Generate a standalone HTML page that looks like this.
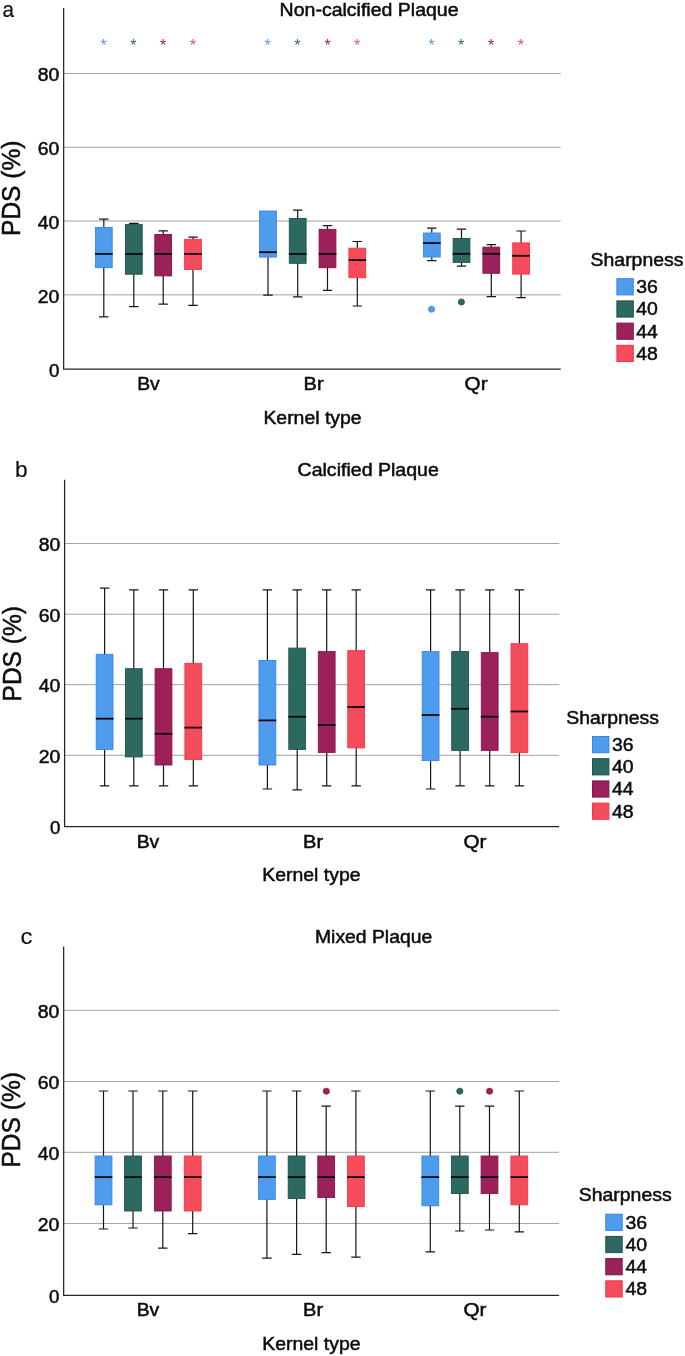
<!DOCTYPE html>
<html lang="en"><head><meta charset="utf-8"><title>PDS by kernel type and sharpness</title>
<style>html,body{margin:0;padding:0;background:#fff}svg{display:block;will-change:transform;opacity:.999}text{font-family:"Liberation Sans",sans-serif;fill:#0c0c0c;stroke:#0c0c0c;stroke-width:.5px}</style></head><body>
<svg width="685" height="1356" viewBox="0 0 685 1356" role="img" aria-label="Box plots of PDS by kernel type and sharpness">
<rect width="685" height="1356" fill="#ffffff"/>
<g id="panel-a">
<line x1="63.65" y1="73.45" x2="560.8" y2="73.45" stroke="#a3a3a3" stroke-width="1"/>
<line x1="63.65" y1="147.25" x2="560.8" y2="147.25" stroke="#a3a3a3" stroke-width="1"/>
<line x1="63.65" y1="221.0" x2="560.8" y2="221.0" stroke="#a3a3a3" stroke-width="1"/>
<line x1="63.65" y1="294.85" x2="560.8" y2="294.85" stroke="#a3a3a3" stroke-width="1"/>
<path d="M103.8 219.2V316.8M99.10 219.2H108.50M99.10 316.8H108.50" stroke="#161616" stroke-width="1.2" fill="none"/>
<path d="M133.8 223.4V306.6M129.10 223.4H138.50M129.10 306.6H138.50" stroke="#161616" stroke-width="1.2" fill="none"/>
<path d="M163.2 230.8V304.1M158.50 230.8H167.90M158.50 304.1H167.90" stroke="#161616" stroke-width="1.2" fill="none"/>
<path d="M193.0 237.2V305.3M188.30 237.2H197.70M188.30 305.3H197.70" stroke="#161616" stroke-width="1.2" fill="none"/>
<path d="M268.0 212.7V295.1M263.30 212.7H272.70M263.30 295.1H272.70" stroke="#161616" stroke-width="1.2" fill="none"/>
<path d="M297.7 210.2V296.9M293.00 210.2H302.40M293.00 296.9H302.40" stroke="#161616" stroke-width="1.2" fill="none"/>
<path d="M327.5 225.6V290.3M322.80 225.6H332.20M322.80 290.3H332.20" stroke="#161616" stroke-width="1.2" fill="none"/>
<path d="M357.3 241.5V306.0M352.60 241.5H362.00M352.60 306.0H362.00" stroke="#161616" stroke-width="1.2" fill="none"/>
<path d="M431.8 228.2V260.6M427.10 228.2H436.50M427.10 260.6H436.50" stroke="#161616" stroke-width="1.2" fill="none"/>
<path d="M461.5 229.2V266.1M456.80 229.2H466.20M456.80 266.1H466.20" stroke="#161616" stroke-width="1.2" fill="none"/>
<path d="M491.3 244.6V296.6M486.60 244.6H496.00M486.60 296.6H496.00" stroke="#161616" stroke-width="1.2" fill="none"/>
<path d="M521.1 231.0V297.6M516.40 231.0H525.80M516.40 297.6H525.80" stroke="#161616" stroke-width="1.2" fill="none"/>
<rect x="95.40" y="227.40" width="16.80" height="40.30" fill="#4E9DEC" stroke="#3B82EE" stroke-width="0.9"/>
<line x1="95.00" y1="253.9" x2="112.60" y2="253.9" stroke="#0a0a0a" stroke-width="1.8"/>
<rect x="125.40" y="224.40" width="16.80" height="49.80" fill="#2C6A61" stroke="#1F504A" stroke-width="0.9"/>
<line x1="125.00" y1="253.9" x2="142.60" y2="253.9" stroke="#0a0a0a" stroke-width="1.8"/>
<rect x="154.80" y="234.50" width="16.80" height="41.40" fill="#9C215A" stroke="#83174A" stroke-width="0.9"/>
<line x1="154.40" y1="253.9" x2="172.00" y2="253.9" stroke="#0a0a0a" stroke-width="1.8"/>
<rect x="184.60" y="239.30" width="16.80" height="30.20" fill="#F44C5A" stroke="#F53545" stroke-width="0.9"/>
<line x1="184.20" y1="253.9" x2="201.80" y2="253.9" stroke="#0a0a0a" stroke-width="1.8"/>
<rect x="259.60" y="211.00" width="16.80" height="46.10" fill="#4E9DEC" stroke="#3B82EE" stroke-width="0.9"/>
<line x1="259.20" y1="252.2" x2="276.80" y2="252.2" stroke="#0a0a0a" stroke-width="1.8"/>
<rect x="289.30" y="218.40" width="16.80" height="44.90" fill="#2C6A61" stroke="#1F504A" stroke-width="0.9"/>
<line x1="288.90" y1="253.9" x2="306.50" y2="253.9" stroke="#0a0a0a" stroke-width="1.8"/>
<rect x="319.10" y="229.30" width="16.80" height="38.40" fill="#9C215A" stroke="#83174A" stroke-width="0.9"/>
<line x1="318.70" y1="253.9" x2="336.30" y2="253.9" stroke="#0a0a0a" stroke-width="1.8"/>
<rect x="348.90" y="248.20" width="16.80" height="29.50" fill="#F44C5A" stroke="#F53545" stroke-width="0.9"/>
<line x1="348.50" y1="260.1" x2="366.10" y2="260.1" stroke="#0a0a0a" stroke-width="1.8"/>
<rect x="423.40" y="233.00" width="16.80" height="24.00" fill="#4E9DEC" stroke="#3B82EE" stroke-width="0.9"/>
<line x1="423.00" y1="243.1" x2="440.60" y2="243.1" stroke="#0a0a0a" stroke-width="1.8"/>
<rect x="453.10" y="238.40" width="16.80" height="24.00" fill="#2C6A61" stroke="#1F504A" stroke-width="0.9"/>
<line x1="452.70" y1="253.8" x2="470.30" y2="253.8" stroke="#0a0a0a" stroke-width="1.8"/>
<rect x="482.90" y="247.10" width="16.80" height="26.20" fill="#9C215A" stroke="#83174A" stroke-width="0.9"/>
<line x1="482.50" y1="253.8" x2="500.10" y2="253.8" stroke="#0a0a0a" stroke-width="1.8"/>
<rect x="512.70" y="242.90" width="16.80" height="31.20" fill="#F44C5A" stroke="#F53545" stroke-width="0.9"/>
<line x1="512.30" y1="255.8" x2="529.90" y2="255.8" stroke="#0a0a0a" stroke-width="1.8"/>
<circle cx="431.55" cy="309.2" r="3.05" fill="#4E9DEC" stroke="#3B82EE" stroke-width="0.8"/>
<circle cx="461.4" cy="302.0" r="3.05" fill="#2C6A61" stroke="#1F504A" stroke-width="0.8"/>
<path d="M63.65 8.0V369.2H560.8" stroke="#262626" stroke-width="1.25" fill="none"/>
</g>
<g id="panel-b">
<line x1="64.6" y1="543.5" x2="559.2" y2="543.5" stroke="#a3a3a3" stroke-width="1"/>
<line x1="64.6" y1="614.2" x2="559.2" y2="614.2" stroke="#a3a3a3" stroke-width="1"/>
<line x1="64.6" y1="684.6" x2="559.2" y2="684.6" stroke="#a3a3a3" stroke-width="1"/>
<line x1="64.6" y1="755.3" x2="559.2" y2="755.3" stroke="#a3a3a3" stroke-width="1"/>
<path d="M104.6 588.1V785.8M99.90 588.1H109.30M99.90 785.8H109.30" stroke="#161616" stroke-width="1.2" fill="none"/>
<path d="M133.8 589.8V785.8M129.10 589.8H138.50M129.10 785.8H138.50" stroke="#161616" stroke-width="1.2" fill="none"/>
<path d="M163.5 589.8V785.8M158.80 589.8H168.20M158.80 785.8H168.20" stroke="#161616" stroke-width="1.2" fill="none"/>
<path d="M193.3 589.8V785.8M188.60 589.8H198.00M188.60 785.8H198.00" stroke="#161616" stroke-width="1.2" fill="none"/>
<path d="M267.4 589.8V789.0M262.70 589.8H272.10M262.70 789.0H272.10" stroke="#161616" stroke-width="1.2" fill="none"/>
<path d="M297.2 589.8V789.8M292.50 589.8H301.90M292.50 789.8H301.90" stroke="#161616" stroke-width="1.2" fill="none"/>
<path d="M326.7 589.8V785.8M322.00 589.8H331.40M322.00 785.8H331.40" stroke="#161616" stroke-width="1.2" fill="none"/>
<path d="M356.2 589.8V785.8M351.50 589.8H360.90M351.50 785.8H360.90" stroke="#161616" stroke-width="1.2" fill="none"/>
<path d="M430.6 589.8V789.0M425.90 589.8H435.30M425.90 789.0H435.30" stroke="#161616" stroke-width="1.2" fill="none"/>
<path d="M460.1 589.8V785.8M455.40 589.8H464.80M455.40 785.8H464.80" stroke="#161616" stroke-width="1.2" fill="none"/>
<path d="M489.7 589.8V785.8M485.00 589.8H494.40M485.00 785.8H494.40" stroke="#161616" stroke-width="1.2" fill="none"/>
<path d="M519.4 589.8V785.8M514.70 589.8H524.10M514.70 785.8H524.10" stroke="#161616" stroke-width="1.2" fill="none"/>
<rect x="96.20" y="654.30" width="16.80" height="95.30" fill="#4E9DEC" stroke="#3B82EE" stroke-width="0.9"/>
<line x1="95.80" y1="718.7" x2="113.40" y2="718.7" stroke="#0a0a0a" stroke-width="1.8"/>
<rect x="125.40" y="668.70" width="16.80" height="88.20" fill="#2C6A61" stroke="#1F504A" stroke-width="0.9"/>
<line x1="125.00" y1="718.7" x2="142.60" y2="718.7" stroke="#0a0a0a" stroke-width="1.8"/>
<rect x="155.10" y="668.70" width="16.80" height="96.30" fill="#9C215A" stroke="#83174A" stroke-width="0.9"/>
<line x1="154.70" y1="733.8" x2="172.30" y2="733.8" stroke="#0a0a0a" stroke-width="1.8"/>
<rect x="184.90" y="663.30" width="16.80" height="96.30" fill="#F44C5A" stroke="#F53545" stroke-width="0.9"/>
<line x1="184.50" y1="727.6" x2="202.10" y2="727.6" stroke="#0a0a0a" stroke-width="1.8"/>
<rect x="259.00" y="660.50" width="16.80" height="104.50" fill="#4E9DEC" stroke="#3B82EE" stroke-width="0.9"/>
<line x1="258.60" y1="720.4" x2="276.20" y2="720.4" stroke="#0a0a0a" stroke-width="1.8"/>
<rect x="288.80" y="648.10" width="16.80" height="101.30" fill="#2C6A61" stroke="#1F504A" stroke-width="0.9"/>
<line x1="288.40" y1="716.7" x2="306.00" y2="716.7" stroke="#0a0a0a" stroke-width="1.8"/>
<rect x="318.30" y="651.60" width="16.80" height="100.80" fill="#9C215A" stroke="#83174A" stroke-width="0.9"/>
<line x1="317.90" y1="725.1" x2="335.50" y2="725.1" stroke="#0a0a0a" stroke-width="1.8"/>
<rect x="347.80" y="650.60" width="16.80" height="97.30" fill="#F44C5A" stroke="#F53545" stroke-width="0.9"/>
<line x1="347.40" y1="707.0" x2="365.00" y2="707.0" stroke="#0a0a0a" stroke-width="1.8"/>
<rect x="422.20" y="651.60" width="16.80" height="109.00" fill="#4E9DEC" stroke="#3B82EE" stroke-width="0.9"/>
<line x1="421.80" y1="715.0" x2="439.40" y2="715.0" stroke="#0a0a0a" stroke-width="1.8"/>
<rect x="451.70" y="651.60" width="16.80" height="98.80" fill="#2C6A61" stroke="#1F504A" stroke-width="0.9"/>
<line x1="451.30" y1="708.8" x2="468.90" y2="708.8" stroke="#0a0a0a" stroke-width="1.8"/>
<rect x="481.30" y="652.60" width="16.80" height="97.80" fill="#9C215A" stroke="#83174A" stroke-width="0.9"/>
<line x1="480.90" y1="716.7" x2="498.50" y2="716.7" stroke="#0a0a0a" stroke-width="1.8"/>
<rect x="511.00" y="643.70" width="16.80" height="108.90" fill="#F44C5A" stroke="#F53545" stroke-width="0.9"/>
<line x1="510.60" y1="711.5" x2="528.20" y2="711.5" stroke="#0a0a0a" stroke-width="1.8"/>
<path d="M64.6 479.8V826.5H559.2" stroke="#262626" stroke-width="1.25" fill="none"/>
</g>
<g id="panel-c">
<line x1="63.66" y1="1010.3" x2="559.1" y2="1010.3" stroke="#a3a3a3" stroke-width="1"/>
<line x1="63.66" y1="1081.5" x2="559.1" y2="1081.5" stroke="#a3a3a3" stroke-width="1"/>
<line x1="63.66" y1="1152.3" x2="559.1" y2="1152.3" stroke="#a3a3a3" stroke-width="1"/>
<line x1="63.66" y1="1223.45" x2="559.1" y2="1223.45" stroke="#a3a3a3" stroke-width="1"/>
<path d="M103.5 1091.0V1229.0M98.80 1091.0H108.20M98.80 1229.0H108.20" stroke="#161616" stroke-width="1.2" fill="none"/>
<path d="M133.0 1091.0V1228.0M128.30 1091.0H137.70M128.30 1228.0H137.70" stroke="#161616" stroke-width="1.2" fill="none"/>
<path d="M162.8 1091.0V1248.1M158.10 1091.0H167.50M158.10 1248.1H167.50" stroke="#161616" stroke-width="1.2" fill="none"/>
<path d="M192.7 1091.0V1233.7M188.00 1091.0H197.40M188.00 1233.7H197.40" stroke="#161616" stroke-width="1.2" fill="none"/>
<path d="M266.9 1091.0V1258.1M262.20 1091.0H271.60M262.20 1258.1H271.60" stroke="#161616" stroke-width="1.2" fill="none"/>
<path d="M296.6 1091.0V1254.3M291.90 1091.0H301.30M291.90 1254.3H301.30" stroke="#161616" stroke-width="1.2" fill="none"/>
<path d="M326.2 1106.1V1252.6M321.50 1106.1H330.90M321.50 1252.6H330.90" stroke="#161616" stroke-width="1.2" fill="none"/>
<path d="M355.9 1091.0V1257.1M351.20 1091.0H360.60M351.20 1257.1H360.60" stroke="#161616" stroke-width="1.2" fill="none"/>
<path d="M430.3 1091.0V1251.9M425.60 1091.0H435.00M425.60 1251.9H435.00" stroke="#161616" stroke-width="1.2" fill="none"/>
<path d="M459.8 1106.1V1231.0M455.10 1106.1H464.50M455.10 1231.0H464.50" stroke="#161616" stroke-width="1.2" fill="none"/>
<path d="M489.5 1106.1V1230.0M484.80 1106.1H494.20M484.80 1230.0H494.20" stroke="#161616" stroke-width="1.2" fill="none"/>
<path d="M519.3 1091.0V1231.8M514.60 1091.0H524.00M514.60 1231.8H524.00" stroke="#161616" stroke-width="1.2" fill="none"/>
<rect x="95.10" y="1156.00" width="16.80" height="48.80" fill="#4E9DEC" stroke="#3B82EE" stroke-width="0.9"/>
<line x1="94.70" y1="1177.1" x2="112.30" y2="1177.1" stroke="#0a0a0a" stroke-width="1.8"/>
<rect x="124.60" y="1156.00" width="16.80" height="55.00" fill="#2C6A61" stroke="#1F504A" stroke-width="0.9"/>
<line x1="124.20" y1="1177.1" x2="141.80" y2="1177.1" stroke="#0a0a0a" stroke-width="1.8"/>
<rect x="154.40" y="1156.00" width="16.80" height="55.00" fill="#9C215A" stroke="#83174A" stroke-width="0.9"/>
<line x1="154.00" y1="1177.1" x2="171.60" y2="1177.1" stroke="#0a0a0a" stroke-width="1.8"/>
<rect x="184.30" y="1156.00" width="16.80" height="55.00" fill="#F44C5A" stroke="#F53545" stroke-width="0.9"/>
<line x1="183.90" y1="1177.1" x2="201.50" y2="1177.1" stroke="#0a0a0a" stroke-width="1.8"/>
<rect x="258.50" y="1156.00" width="16.80" height="43.40" fill="#4E9DEC" stroke="#3B82EE" stroke-width="0.9"/>
<line x1="258.10" y1="1177.1" x2="275.70" y2="1177.1" stroke="#0a0a0a" stroke-width="1.8"/>
<rect x="288.20" y="1156.00" width="16.80" height="42.60" fill="#2C6A61" stroke="#1F504A" stroke-width="0.9"/>
<line x1="287.80" y1="1177.1" x2="305.40" y2="1177.1" stroke="#0a0a0a" stroke-width="1.8"/>
<rect x="317.80" y="1156.00" width="16.80" height="41.60" fill="#9C215A" stroke="#83174A" stroke-width="0.9"/>
<line x1="317.40" y1="1177.1" x2="335.00" y2="1177.1" stroke="#0a0a0a" stroke-width="1.8"/>
<rect x="347.50" y="1156.00" width="16.80" height="50.60" fill="#F44C5A" stroke="#F53545" stroke-width="0.9"/>
<line x1="347.10" y1="1177.1" x2="364.70" y2="1177.1" stroke="#0a0a0a" stroke-width="1.8"/>
<rect x="421.90" y="1156.00" width="16.80" height="49.80" fill="#4E9DEC" stroke="#3B82EE" stroke-width="0.9"/>
<line x1="421.50" y1="1177.1" x2="439.10" y2="1177.1" stroke="#0a0a0a" stroke-width="1.8"/>
<rect x="451.40" y="1156.00" width="16.80" height="37.60" fill="#2C6A61" stroke="#1F504A" stroke-width="0.9"/>
<line x1="451.00" y1="1177.1" x2="468.60" y2="1177.1" stroke="#0a0a0a" stroke-width="1.8"/>
<rect x="481.10" y="1156.00" width="16.80" height="37.60" fill="#9C215A" stroke="#83174A" stroke-width="0.9"/>
<line x1="480.70" y1="1177.1" x2="498.30" y2="1177.1" stroke="#0a0a0a" stroke-width="1.8"/>
<rect x="510.90" y="1156.00" width="16.80" height="48.80" fill="#F44C5A" stroke="#F53545" stroke-width="0.9"/>
<line x1="510.50" y1="1177.1" x2="528.10" y2="1177.1" stroke="#0a0a0a" stroke-width="1.8"/>
<circle cx="326.3" cy="1091.2" r="3.05" fill="#9C215A" stroke="#83174A" stroke-width="0.8"/>
<circle cx="459.8" cy="1091.2" r="3.05" fill="#2C6A61" stroke="#1F504A" stroke-width="0.8"/>
<circle cx="489.6" cy="1091.2" r="3.05" fill="#9C215A" stroke="#83174A" stroke-width="0.8"/>
<path d="M63.66 946.5V1295.25H559.1" stroke="#262626" stroke-width="1.25" fill="none"/>
</g>
<text x="103.5" y="50.9" font-size="16" text-anchor="middle" style="fill:#4E9DEC;stroke:none">*</text>
<text x="133.3" y="50.9" font-size="16" text-anchor="middle" style="fill:#2C6A61;stroke:none">*</text>
<text x="163.0" y="50.9" font-size="16" text-anchor="middle" style="fill:#9C215A;stroke:none">*</text>
<text x="192.8" y="50.9" font-size="16" text-anchor="middle" style="fill:#F44C5A;stroke:none">*</text>
<text x="267.7" y="50.9" font-size="16" text-anchor="middle" style="fill:#4E9DEC;stroke:none">*</text>
<text x="297.4" y="50.9" font-size="16" text-anchor="middle" style="fill:#2C6A61;stroke:none">*</text>
<text x="327.5" y="50.9" font-size="16" text-anchor="middle" style="fill:#9C215A;stroke:none">*</text>
<text x="357.0" y="50.9" font-size="16" text-anchor="middle" style="fill:#F44C5A;stroke:none">*</text>
<text x="431.5" y="50.9" font-size="16" text-anchor="middle" style="fill:#4E9DEC;stroke:none">*</text>
<text x="461.2" y="50.9" font-size="16" text-anchor="middle" style="fill:#2C6A61;stroke:none">*</text>
<text x="491.0" y="50.9" font-size="16" text-anchor="middle" style="fill:#9C215A;stroke:none">*</text>
<text x="520.8" y="50.9" font-size="16" text-anchor="middle" style="fill:#F44C5A;stroke:none">*</text>
<text x="37.75" y="81.0" font-size="18.3" text-anchor="start" textLength="21.6" lengthAdjust="spacingAndGlyphs" >80</text>
<text x="37.75" y="154.8" font-size="18.3" text-anchor="start" textLength="21.6" lengthAdjust="spacingAndGlyphs" >60</text>
<text x="37.75" y="228.6" font-size="18.3" text-anchor="start" textLength="21.6" lengthAdjust="spacingAndGlyphs" >40</text>
<text x="37.75" y="302.5" font-size="18.3" text-anchor="start" textLength="21.6" lengthAdjust="spacingAndGlyphs" >20</text>
<text x="48.95" y="376.6" font-size="18.3" text-anchor="start" textLength="10.4" lengthAdjust="spacingAndGlyphs" >0</text>
<text x="38.7" y="551.1" font-size="18.3" text-anchor="start" textLength="21.6" lengthAdjust="spacingAndGlyphs" >80</text>
<text x="38.7" y="621.8" font-size="18.3" text-anchor="start" textLength="21.6" lengthAdjust="spacingAndGlyphs" >60</text>
<text x="38.7" y="692.2" font-size="18.3" text-anchor="start" textLength="21.6" lengthAdjust="spacingAndGlyphs" >40</text>
<text x="38.7" y="762.9" font-size="18.3" text-anchor="start" textLength="21.6" lengthAdjust="spacingAndGlyphs" >20</text>
<text x="49.9" y="833.9" font-size="18.3" text-anchor="start" textLength="10.4" lengthAdjust="spacingAndGlyphs" >0</text>
<text x="37.76" y="1017.9" font-size="18.3" text-anchor="start" textLength="21.6" lengthAdjust="spacingAndGlyphs" >80</text>
<text x="37.76" y="1089.1" font-size="18.3" text-anchor="start" textLength="21.6" lengthAdjust="spacingAndGlyphs" >60</text>
<text x="37.76" y="1159.9" font-size="18.3" text-anchor="start" textLength="21.6" lengthAdjust="spacingAndGlyphs" >40</text>
<text x="37.76" y="1231.0" font-size="18.3" text-anchor="start" textLength="21.6" lengthAdjust="spacingAndGlyphs" >20</text>
<text x="48.96" y="1302.6" font-size="18.3" text-anchor="start" textLength="10.4" lengthAdjust="spacingAndGlyphs" >0</text>
<text x="137.2" y="390.1" font-size="18.3" text-anchor="start" textLength="22.6" lengthAdjust="spacingAndGlyphs" >Bv</text>
<text x="303.6" y="390.1" font-size="18.3" text-anchor="start" textLength="20.0" lengthAdjust="spacingAndGlyphs" >Br</text>
<text x="464.6" y="390.1" font-size="18.3" text-anchor="start" textLength="23.0" lengthAdjust="spacingAndGlyphs" >Qr</text>
<text x="263.4" y="423.9" font-size="18.3" text-anchor="start" textLength="98.2" lengthAdjust="spacingAndGlyphs" >Kernel type</text>
<text x="136.65" y="847.5" font-size="18.3" text-anchor="start" textLength="22.6" lengthAdjust="spacingAndGlyphs" >Bv</text>
<text x="303.05" y="847.5" font-size="18.3" text-anchor="start" textLength="20.0" lengthAdjust="spacingAndGlyphs" >Br</text>
<text x="463.5" y="847.5" font-size="18.3" text-anchor="start" textLength="23.0" lengthAdjust="spacingAndGlyphs" >Qr</text>
<text x="262.3" y="881.2" font-size="18.3" text-anchor="start" textLength="98.2" lengthAdjust="spacingAndGlyphs" >Kernel type</text>
<text x="136.65" y="1316.2" font-size="18.3" text-anchor="start" textLength="22.6" lengthAdjust="spacingAndGlyphs" >Bv</text>
<text x="303.05" y="1316.2" font-size="18.3" text-anchor="start" textLength="20.0" lengthAdjust="spacingAndGlyphs" >Br</text>
<text x="463.5" y="1316.2" font-size="18.3" text-anchor="start" textLength="23.0" lengthAdjust="spacingAndGlyphs" >Qr</text>
<text x="262.3" y="1350.0" font-size="18.3" text-anchor="start" textLength="98.2" lengthAdjust="spacingAndGlyphs" >Kernel type</text>
<text x="279.6" y="15.9" font-size="18.3" text-anchor="start" textLength="179.0" lengthAdjust="spacingAndGlyphs" >Non-calcified Plaque</text>
<text x="297.5" y="476.2" font-size="18.3" text-anchor="start" textLength="141.4" lengthAdjust="spacingAndGlyphs" >Calcified Plaque</text>
<text x="315.0" y="942.6" font-size="18.3" text-anchor="start" textLength="117.2" lengthAdjust="spacingAndGlyphs" >Mixed Plaque</text>
<text x="2.5" y="16.9" font-size="22.5" text-anchor="start" textLength="11.5" lengthAdjust="spacingAndGlyphs" style="stroke-width:.15px">a</text>
<text x="15.0" y="477.3" font-size="22.5" text-anchor="start" textLength="12.6" lengthAdjust="spacingAndGlyphs" style="stroke-width:.15px">b</text>
<text x="20.5" y="943.5" font-size="22.5" text-anchor="start" textLength="12.0" lengthAdjust="spacingAndGlyphs" style="stroke-width:.15px">c</text>
<text transform="translate(19.6 236.0) rotate(-90)" font-size="25" textLength="95.5" lengthAdjust="spacingAndGlyphs">PDS (%)</text>
<text transform="translate(20.6 701.5) rotate(-90)" font-size="25" textLength="95.5" lengthAdjust="spacingAndGlyphs">PDS (%)</text>
<text transform="translate(19.6 1167.6) rotate(-90)" font-size="25" textLength="95.5" lengthAdjust="spacingAndGlyphs">PDS (%)</text>
<text x="590.6" y="266.2" font-size="18.3" text-anchor="start" textLength="92.8" lengthAdjust="spacingAndGlyphs" >Sharpness</text>
<rect x="616.90" y="278.70" width="16.4" height="16.2" fill="#4E9DEC" stroke="#3B82EE" stroke-width="1"/>
<text x="636.2" y="293.2" font-size="18.3" text-anchor="start" textLength="21.6" lengthAdjust="spacingAndGlyphs" >36</text>
<rect x="616.90" y="300.90" width="16.4" height="16.2" fill="#2C6A61" stroke="#1F504A" stroke-width="1"/>
<text x="636.2" y="315.4" font-size="18.3" text-anchor="start" textLength="21.6" lengthAdjust="spacingAndGlyphs" >40</text>
<rect x="616.90" y="323.10" width="16.4" height="16.2" fill="#9C215A" stroke="#83174A" stroke-width="1"/>
<text x="636.2" y="337.6" font-size="18.3" text-anchor="start" textLength="21.6" lengthAdjust="spacingAndGlyphs" >44</text>
<rect x="616.90" y="345.30" width="16.4" height="16.2" fill="#F44C5A" stroke="#F53545" stroke-width="1"/>
<text x="636.2" y="359.8" font-size="18.3" text-anchor="start" textLength="21.6" lengthAdjust="spacingAndGlyphs" >48</text>
<text x="566.2" y="723.7" font-size="18.3" text-anchor="start" textLength="92.8" lengthAdjust="spacingAndGlyphs" >Sharpness</text>
<rect x="592.50" y="736.50" width="16.4" height="16.2" fill="#4E9DEC" stroke="#3B82EE" stroke-width="1"/>
<text x="611.9" y="751.0" font-size="18.3" text-anchor="start" textLength="21.6" lengthAdjust="spacingAndGlyphs" >36</text>
<rect x="592.50" y="758.70" width="16.4" height="16.2" fill="#2C6A61" stroke="#1F504A" stroke-width="1"/>
<text x="611.9" y="773.2" font-size="18.3" text-anchor="start" textLength="21.6" lengthAdjust="spacingAndGlyphs" >40</text>
<rect x="592.50" y="780.90" width="16.4" height="16.2" fill="#9C215A" stroke="#83174A" stroke-width="1"/>
<text x="611.9" y="795.4" font-size="18.3" text-anchor="start" textLength="21.6" lengthAdjust="spacingAndGlyphs" >44</text>
<rect x="592.50" y="803.10" width="16.4" height="16.2" fill="#F44C5A" stroke="#F53545" stroke-width="1"/>
<text x="611.9" y="817.6" font-size="18.3" text-anchor="start" textLength="21.6" lengthAdjust="spacingAndGlyphs" >48</text>
<text x="578.8" y="1200.9" font-size="18.3" text-anchor="start" textLength="92.8" lengthAdjust="spacingAndGlyphs" >Sharpness</text>
<rect x="605.80" y="1214.20" width="16.4" height="16.2" fill="#4E9DEC" stroke="#3B82EE" stroke-width="1"/>
<text x="625.4" y="1228.7" font-size="18.3" text-anchor="start" textLength="21.6" lengthAdjust="spacingAndGlyphs" >36</text>
<rect x="605.80" y="1236.40" width="16.4" height="16.2" fill="#2C6A61" stroke="#1F504A" stroke-width="1"/>
<text x="625.4" y="1250.9" font-size="18.3" text-anchor="start" textLength="21.6" lengthAdjust="spacingAndGlyphs" >40</text>
<rect x="605.80" y="1258.60" width="16.4" height="16.2" fill="#9C215A" stroke="#83174A" stroke-width="1"/>
<text x="625.4" y="1273.1" font-size="18.3" text-anchor="start" textLength="21.6" lengthAdjust="spacingAndGlyphs" >44</text>
<rect x="605.80" y="1280.80" width="16.4" height="16.2" fill="#F44C5A" stroke="#F53545" stroke-width="1"/>
<text x="625.4" y="1295.3" font-size="18.3" text-anchor="start" textLength="21.6" lengthAdjust="spacingAndGlyphs" >48</text>
</svg></body></html>
